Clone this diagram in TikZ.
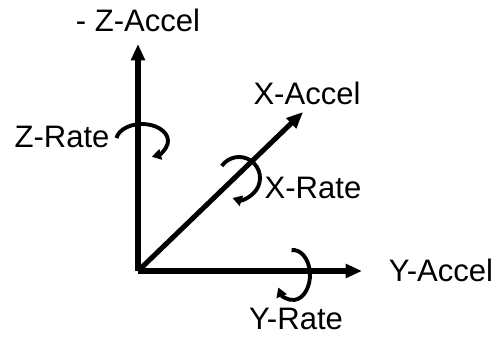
\documentclass[tikz,border=0pt]{standalone}
\usepackage{fontspec}
\setmainfont{Liberation Sans}
\usetikzlibrary{arrows.meta, positioning}

\begin{document}
\begin{tikzpicture}[x=0.03cm, y=0.03cm,
    axis/.style={line width=4.3pt, -{Triangle[length=14pt, width=11.5pt]}},
    curl/.style={line width=3.3pt, -{Triangle[length=8pt, width=9pt]}},
    lbl/.style={font=\fontsize{26.5}{31}\selectfont, inner sep=0pt}]
    \useasboundingbox (0,0) rectangle (499,337);
    % axes
    \coordinate (o) at (138,66);
    \coordinate (ztip) at (138,293);
    \coordinate (xtip) at (303,225);
    \coordinate (ytip) at (362,66);
    \draw[axis] (o) -- (ztip);
    \draw[axis] (o) -- (xtip);
    \draw[axis] (o) -- (ytip);
    \node[lbl] (zacc) at (138,317) {- Z-Accel};
    \node[lbl] (xacc) at (307,244) {X-Accel};
    \node[lbl] (yacc) at (441,67) {Y-Accel};
    % rates
    \coordinate (zc) at (142,196);
    \coordinate (xc) at (239,159);
    \coordinate (yc) at (293,62);
    \draw[curl] ([shift={(170:26 and 17)}]zc) arc[start angle=170, end angle=-68, x radius=26, y radius=17];
    \draw[curl] ([shift={(145:21 and 21)}]xc) arc[start angle=145, end angle=-108, x radius=21, y radius=21];
    \draw[curl] ([shift={(95:17 and 25)}]yc) arc[start angle=95, end angle=-150, x radius=17, y radius=25];
    \node[lbl] (zrate) at (62,200) {Z-Rate};
    \node[lbl] (xrate) at (313,149) {X-Rate};
    \node[lbl] (yrate) at (296,18) {Y-Rate};
\end{tikzpicture}
\end{document}
